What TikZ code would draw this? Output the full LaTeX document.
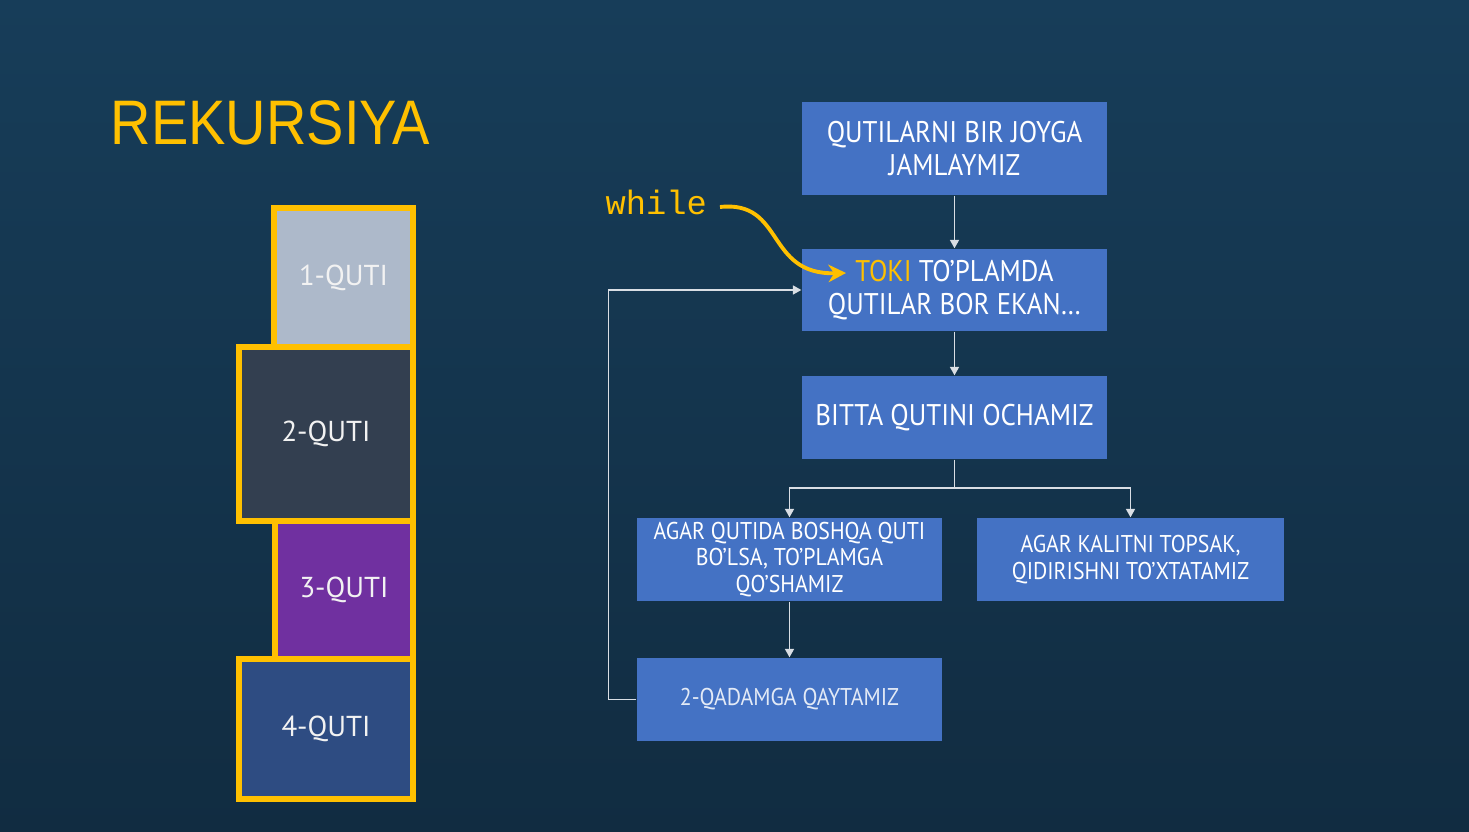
\documentclass[tikz,border=0pt]{standalone}
\usepackage{fontspec}
\setmainfont{PT Sans}
\newfontfamily\titlefont{Liberation Sans}[FakeStretch=0.89]
\newfontfamily\boxfont{PT Sans}[FakeStretch=0.9]
\newfontfamily\codefont{Liberation Mono}
\usetikzlibrary{
    arrows.meta,
    positioning,
}

\definecolor{slidetop}{HTML}{173D59}
\definecolor{slidebot}{HTML}{112C41}
\definecolor{qyellow}{HTML}{FFC000}
\definecolor{flowblue}{HTML}{4472C4}
\definecolor{linegray}{HTML}{D9DEE4}
\definecolor{quti1}{HTML}{ADB9CA}
\definecolor{quti2}{HTML}{333F50}
\definecolor{quti3}{HTML}{7030A0}
\definecolor{quti4}{HTML}{2E4C82}

\tikzset{
    quti/.style={draw=qyellow, line width=1.7pt, anchor=north east, inner sep=0pt,
        text=white!95!black, font=\fontsize{8.2}{9}\selectfont},
    flowbox/.style={fill=flowblue, text=white, align=center, inner sep=0pt,
        minimum width=3.05cm, minimum height=0.83cm},
    bigtext/.style={font=\boxfont\fontsize{8.5}{9.4}\selectfont},
    smalltext/.style={font=\boxfont\fontsize{6.9}{7.5}\selectfont},
    flow/.style={draw=linegray, line width=0.35pt, -{Triangle[length=2.4pt, width=2.6pt]}},
}

\begin{document}
\begin{tikzpicture}

    \shade[top color=slidetop, bottom color=slidebot] (0,0) rectangle (14.69,-8.32);
    \useasboundingbox (0,0) rectangle (14.69,-8.32);

    % title
    \node[anchor=base west, inner sep=0pt, text=qyellow,
        font=\titlefont\fontsize{17.9}{20}\selectfont] (title) at (1.10,-1.45) {REKURSIYA};

    % boxes stacked on the left
    \node[quti, fill=quti1, minimum width=1.39cm, minimum height=1.39cm] (q1) at (4.16,-2.05) {1-QUTI};
    \node[quti, fill=quti2, minimum width=1.74cm, minimum height=1.74cm] (q2) at (4.16,-3.44) {2-QUTI};
    \node[quti, fill=quti3, minimum width=1.38cm, minimum height=1.38cm] (q3) at (4.16,-5.18) {3-QUTI};
    \node[quti, fill=quti4, minimum width=1.74cm, minimum height=1.40cm] (q4) at (4.16,-6.56) {4-QUTI};

    % flow chart
    \node[flowbox, bigtext, minimum height=0.93cm] (b1) at (9.545,-1.485) {QUTILARNI BIR JOYGA\\JAMLAYMIZ};
    \node[flowbox, bigtext, minimum height=0.82cm] (b2) at (9.545,-2.90) {{\color{qyellow}TOKI} TO’PLAMDA\\QUTILAR BOR EKAN…};
    \node[flowbox, bigtext] (b3) at (9.545,-4.175) {BITTA QUTINI OCHAMIZ};
    \node[flowbox, smalltext] (b4) at (7.895,-5.595) {AGAR QUTIDA BOSHQA QUTI\\BO’LSA, TO’PLAMGA\\QO’SHAMIZ};
    \node[flowbox, smalltext, minimum width=3.07cm] (b5) at (11.305,-5.595) {AGAR KALITNI TOPSAK,\\QIDIRISHNI TO’XTATAMIZ};
    \node[flowbox, smalltext, text=white!85!flowblue] (b6) at (7.895,-6.995) {2-QADAMGA QAYTAMIZ};

    \coordinate (fork) at (9.545,-4.88);
    \coordinate (toki) at (8.46,-2.73);

    \draw[flow] (b1) -- (b2);
    \draw[flow] (b2) -- (b3);
    \draw[draw=linegray, line width=0.35pt] (b3) -- (fork);
    \draw[flow] (fork) -| (b4);
    \draw[flow] (fork) -| (b5);
    \draw[flow] (b4) -- (b6);
    \draw[flow] (b6.west) -- ++(-0.28,0) |- (b2.west);

    % while -> toki
    \node[anchor=base west, inner sep=0pt, text=qyellow,
        font=\codefont\fontsize{9.6}{11}\selectfont] (while) at (6.05,-2.15) {while};
    \draw[qyellow, line width=1.1pt, -{Stealth[length=5pt, width=5pt]}]
        (7.20,-2.07) .. controls (7.85,-2.00) and (7.65,-2.75) .. (toki);

\end{tikzpicture}
\end{document}
